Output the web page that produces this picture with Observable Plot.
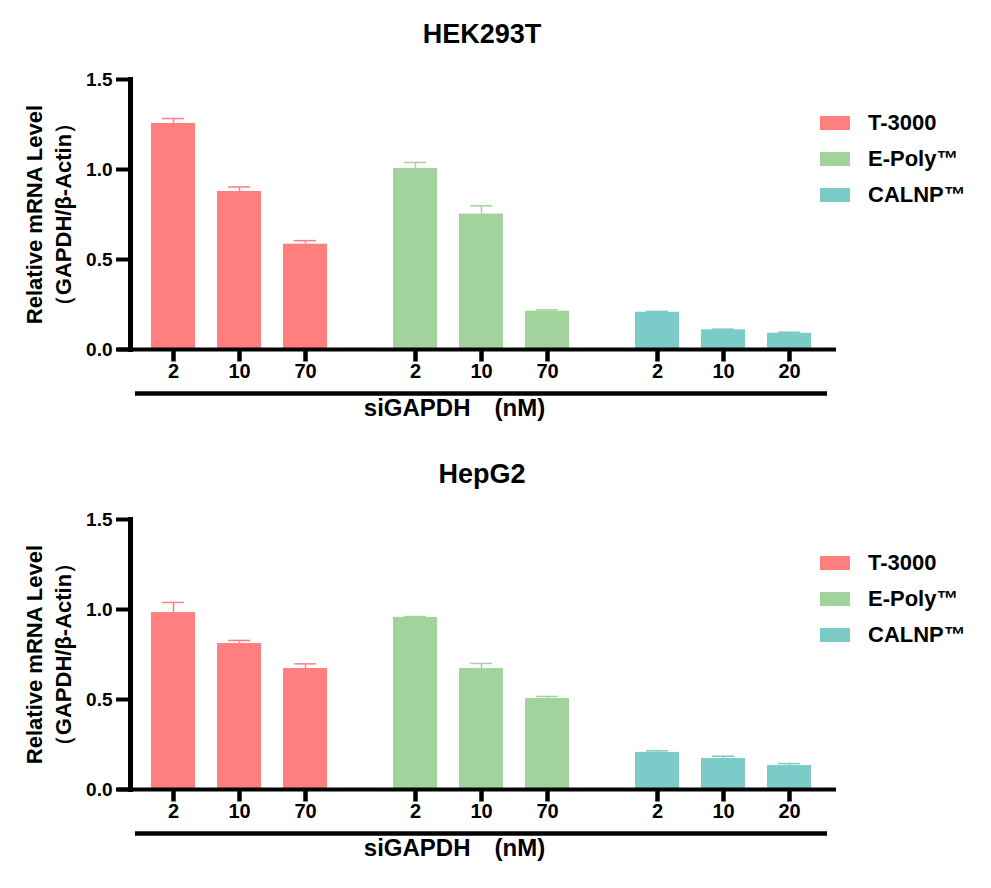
<!DOCTYPE html>
<html>
<head>
<meta charset="utf-8">
<script src="https://cdn.jsdelivr.net/npm/d3@7"></script>
<script src="https://cdn.jsdelivr.net/npm/@observablehq/plot@0.6"></script>
<style>
  html, body { margin: 0; padding: 0; background: #fff; }
  body { font-family: "Liberation Sans", Arial, sans-serif; font-weight: bold; color: #000; }
  #root { position: relative; width: 991px; height: 888px; overflow: hidden; }
  .panel { position: absolute; left: 0; width: 991px; height: 440px; }
  .panel svg { position: absolute; left: 0; top: 0; }
  .title { position: absolute; left: 0; width: 964px; text-align: center; font-size: 27px; line-height: 26px; top: 21px; }
  .legend { position: absolute; left: 820px; top: 105px; }
  .legend .row { display: flex; align-items: center; height: 36px; font-size: 22px; white-space: nowrap; }
  .legend .sw { width: 30px; height: 14px; margin-right: 18px; flex: none; }
</style>
</head>
<body>
<div id="root"></div>
<script>
// ---- data ----
const groups = ["T-3000", "E-Poly™", "CALNP™"];
const colors = ["#FF7F7F", "#A2D39C", "#7BCBC8"];
const doseT = ["2", "10", "70"];
const doseE = ["2", "10", "70"];
const doseC = ["2", "10", "20"];
const yDomain = [0, 1.5];
const yTicks = [0, 0.5, 1.0, 1.5];
const yLabel = "Relative mRNA Level\n（GAPDH/β-Actin）";
const xLabel = "siGAPDH　(nM)";

const titles = ["HEK293T", "HepG2"];

// HEK293T
const hekT = [1.256, 0.878, 0.585];
const hekTErr = [0.027, 0.025, 0.020];
const hekE = [1.006, 0.752, 0.213];
const hekEErr = [0.033, 0.046, 0.007];
const hekC = [0.207, 0.109, 0.090];
const hekCErr = [0.005, 0.004, 0.006];

// HepG2
const hepT = [0.983, 0.811, 0.672];
const hepTErr = [0.056, 0.017, 0.026];
const hepE = [0.956, 0.672, 0.506];
const hepEErr = [0.005, 0.028, 0.011];
const hepC = [0.206, 0.172, 0.133];
const hepCErr = [0.009, 0.013, 0.011];

const doses = [doseT, doseE, doseC];
const panels = [
  {title: titles[0], vals: [hekT, hekE, hekC], errs: [hekTErr, hekEErr, hekCErr]},
  {title: titles[1], vals: [hepT, hepE, hepC], errs: [hepTErr, hepEErr, hepCErr]}
];

function buildRows(p) {
  const rows = [];
  groups.forEach((g, gi) => {
    doses[gi].forEach((d, i) => {
      rows.push({group: g, slot: i, dose: d, value: p.vals[gi][i], err: p.errs[gi][i]});
    });
  });
  return rows;
}

const font = "'Liberation Sans', Arial, sans-serif";
const W = 991, H = 440, MT = 79, MB = 91, ML = 129, MR = 158;
const FW = 220;              // facet band width
const FH = H - MT - MB;      // frame height in px
const tickLen = 12 * (yDomain[1] - yDomain[0]) / FH; // 12px expressed in y units

function makePanel(p, top) {
  const rows = buildRows(p);
  const g0 = [{group: groups[0]}], g1 = [{group: groups[1]}], g2 = [{group: groups[2]}];
  const yTickRows = yTicks.map(v => ({group: groups[0], v}));
  const axisPts = yDomain.map(v => ({group: groups[0], slot: 0, v}));
  const xTickPts = rows.flatMap((r, k) => [
    {group: r.group, slot: r.slot, k, v: 0},
    {group: r.group, slot: r.slot, k, v: -tickLen}
  ]);
  const chart = Plot.plot({
    width: W,
    height: H,
    marginLeft: ML,
    marginRight: MR,
    marginTop: MT,
    marginBottom: MB,
    style: {fontFamily: font, fontWeight: "bold", color: "#000", background: "transparent", overflow: "visible"},
    fx: {domain: groups, paddingInner: 22 / 242, paddingOuter: 0, round: false, axis: null, label: null},
    x: {type: "band", domain: [0, 1, 2], padding: 1 / 3, round: false, axis: null},
    y: {domain: yDomain, axis: null},
    color: {domain: groups, range: colors},
    marks: [
      Plot.barY(rows, {fx: "group", x: "slot", y: "value", fill: "group"}),
      Plot.ruleX(rows, {fx: "group", x: "slot", y1: "value", y2: d => d.value + d.err, stroke: "group", strokeWidth: 1.5}),
      Plot.tickY(rows, {fx: "group", x: "slot", y: d => d.value + d.err, stroke: "group", strokeWidth: 1.5, insetLeft: 11, insetRight: 11}),
      // y axis: tick marks, labels, axis line
      Plot.ruleY(yTickRows, {fx: "group", y: "v", insetLeft: -13, insetRight: FW, strokeWidth: 4, stroke: "#000"}),
      Plot.text(yTickRows, {fx: "group", y: "v", text: d => d3.format(".1f")(d.v), frameAnchor: "left", textAnchor: "end", dx: -17, fontSize: 19, fontWeight: "bold"}),
      Plot.line(axisPts, {fx: "group", x: "slot", y: "v", dx: -43, stroke: "#000", strokeWidth: 5, strokeLinecap: "square", curve: "linear"}),
      // x axis line
      Plot.ruleY(g0, {fx: "group", y: 0, strokeWidth: 4, insetLeft: -12, insetRight: -11}),
      Plot.ruleY(g1, {fx: "group", y: 0, strokeWidth: 4, insetLeft: -11, insetRight: -11}),
      Plot.ruleY(g2, {fx: "group", y: 0, strokeWidth: 4, insetLeft: -11, insetRight: -3}),
      // x ticks and labels
      Plot.line(xTickPts, {fx: "group", x: "slot", y: "v", z: "k", stroke: "#000", strokeWidth: 4.5, strokeLinecap: "butt", curve: "linear"}),
      Plot.text(rows, {fx: "group", x: "slot", text: "dose", frameAnchor: "bottom", dy: 28, fontSize: 20, fontWeight: "bold"}),
      // group bracket line
      Plot.ruleY(g0, {fx: "group", y: 0, dy: 44, strokeWidth: 4.5, insetLeft: 6, insetRight: -11}),
      Plot.ruleY(g1, {fx: "group", y: 0, dy: 44, strokeWidth: 4.5, insetLeft: -11, insetRight: -11}),
      Plot.ruleY(g2, {fx: "group", y: 0, dy: 44, strokeWidth: 4.5, insetLeft: -11, insetRight: 6}),
      // x label
      Plot.text([{group: groups[1], t: xLabel}], {fx: "group", text: "t", frameAnchor: "bottom", dx: -27, dy: 66, fontSize: 24, fontWeight: "bold"}),
      // y label
      Plot.text([{group: groups[0], t: yLabel}], {fx: "group", text: "t", frameAnchor: "left", textAnchor: "middle", rotate: -90, dx: -82, fontSize: 22, lineHeight: 1.3, fontWeight: "bold"})
    ]
  });

  const panel = document.createElement("div");
  panel.className = "panel";
  panel.style.top = top + "px";
  panel.appendChild(chart);

  const t = document.createElement("div");
  t.className = "title";
  t.textContent = p.title;
  panel.appendChild(t);

  const lg = document.createElement("div");
  lg.className = "legend";
  groups.forEach((g, i) => {
    const r = document.createElement("div");
    r.className = "row";
    const sw = document.createElement("span");
    sw.className = "sw";
    sw.style.background = colors[i];
    r.appendChild(sw);
    const lab = document.createElement("span");
    lab.textContent = g;
    r.appendChild(lab);
    lg.appendChild(r);
  });
  panel.appendChild(lg);
  return panel;
}

const root = document.getElementById("root");
root.appendChild(makePanel(panels[0], 0));
root.appendChild(makePanel(panels[1], 440));
</script>
</body>
</html>
